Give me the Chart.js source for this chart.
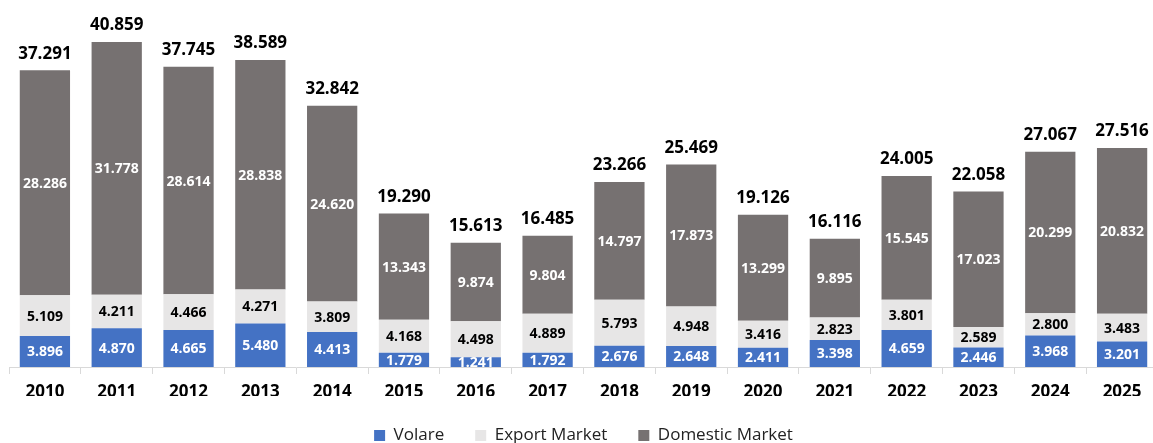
<!DOCTYPE html>
<html>
<head>
<meta charset="utf-8">
<script src="https://cdn.jsdelivr.net/npm/chart.js@4.4.0/dist/chart.umd.min.js"></script>
<style>
  html, body { margin: 0; padding: 0; background: #fff; overflow: hidden; }
  #wrap { width: 1158px; height: 454px; position: relative; }
</style>
</head>
<body>
<div id="wrap"><canvas id="chart"></canvas></div>
<script>
const years = ['2010','2011','2012','2013','2014','2015','2016','2017','2018','2019','2020','2021','2022','2023','2024','2025'];
const volare = [3.896, 4.870, 4.665, 5.480, 4.413, 1.779, 1.241, 1.792, 2.676, 2.648, 2.411, 3.398, 4.659, 2.446, 3.968, 3.201];
const exportMarket = [5.109, 4.211, 4.466, 4.271, 3.809, 4.168, 4.498, 4.889, 5.793, 4.948, 3.416, 2.823, 3.801, 2.589, 2.800, 3.483];
const domestic = [28.286, 31.778, 28.614, 28.838, 24.620, 13.343, 9.874, 9.804, 14.797, 17.873, 13.299, 9.895, 15.545, 17.023, 20.299, 20.832];
const totals = [37.291, 40.859, 37.745, 38.589, 32.842, 19.290, 15.613, 16.485, 23.266, 25.469, 19.126, 16.116, 24.005, 22.058, 27.067, 27.516];

const FONT = '"Open Sans", sans-serif';
const fmt = v => v.toFixed(3);

// labels inside each segment and totals above the bars
const barLabels = {
  id: 'barLabels',
  afterDatasetsDraw(chart) {
    const ctx = chart.ctx;
    ctx.save();
    ctx.textAlign = 'center';
    ctx.textBaseline = 'middle';
    chart.data.datasets.forEach((ds, i) => {
      const meta = chart.getDatasetMeta(i);
      ctx.fillStyle = ds.labelColor;
      ctx.font = 'bold 14px ' + FONT;
      meta.data.forEach((bar, j) => {
        ctx.fillText(fmt(ds.data[j]), bar.x, (bar.y + bar.base) / 2 + 1);
      });
    });
    const top = chart.getDatasetMeta(2);
    ctx.fillStyle = '#000';
    ctx.font = 'bold 17px ' + FONT;
    ctx.textBaseline = 'bottom';
    top.data.forEach((bar, j) => {
      ctx.fillText(fmt(totals[j]), bar.x, bar.y - 8);
    });
    ctx.restore();
  }
};

new Chart(document.getElementById('chart'), {
  type: 'bar',
  data: {
    labels: years,
    datasets: [
      { label: 'Volare', data: volare, backgroundColor: '#4472C4', labelColor: '#fff' },
      { label: 'Export Market', data: exportMarket, backgroundColor: '#E7E6E6', labelColor: '#000' },
      { label: 'Domestic Market', data: domestic, backgroundColor: '#767171', labelColor: '#fff' }
    ]
  },
  options: {
    responsive: true,
    maintainAspectRatio: false,
    animation: false,
    layout: { padding: { left: 9, right: 0, top: 17, bottom: 0 } },
    datasets: { bar: { categoryPercentage: 0.7, barPercentage: 1 } },
    plugins: {
      legend: {
        position: 'bottom',
        labels: {
          font: { family: FONT, size: 17 },
          color: '#222',
          boxWidth: 11,
          boxHeight: 11,
          padding: 31
        }
      },
      tooltip: { enabled: false }
    },
    scales: {
      x: {
        stacked: true,
        grid: { display: true, drawOnChartArea: false, offset: true, color: '#D9D9D9', tickLength: 7 },
        border: { color: '#D9D9D9', width: 1 },
        ticks: { font: { family: FONT, size: 17, weight: 'bold' }, color: '#000', padding: 8 },
        afterFit: (scale) => { scale.height = 29; }
      },
      y: {
        stacked: true,
        min: 0,
        max: 44,
        display: false
      }
    }
  },
  plugins: [barLabels]
});
</script>
</body>
</html>
